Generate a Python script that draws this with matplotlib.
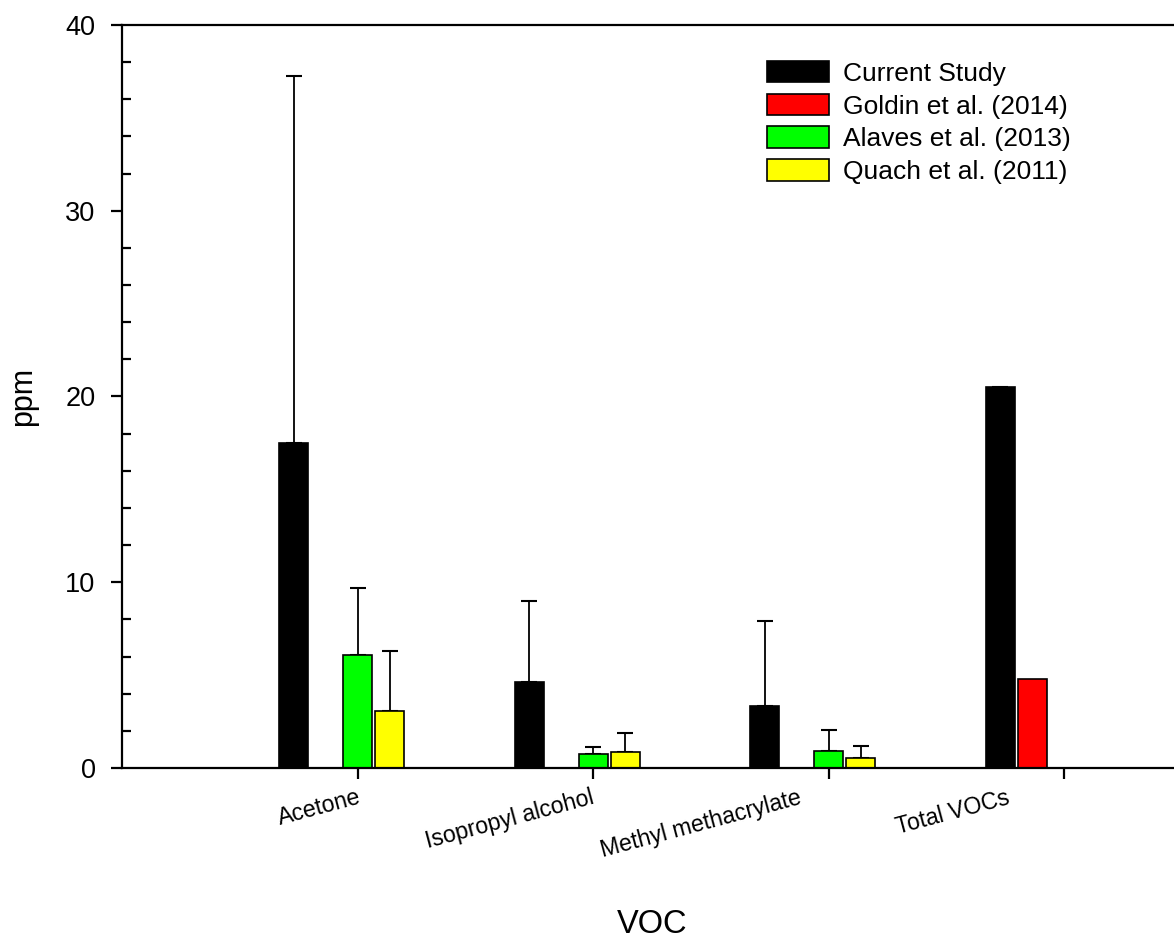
import numpy as np
import matplotlib
matplotlib.use('Agg')
import matplotlib.pyplot as plt
import matplotlib.transforms as mtransforms
from matplotlib.ticker import MultipleLocator

plt.rcParams['font.family'] = ['Liberation Sans', 'DejaVu Sans']

nan = np.nan
categories = ['Acetone', 'Isopropyl alcohol', 'Methyl methacrylate', 'Total VOCs']
series_names = ['Current Study', 'Goldin et al. (2014)', 'Alaves et al. (2013)', 'Quach et al. (2011)']
current = [17.5, 4.63, 3.36, 20.49]
current_err = [19.77, 4.36, 4.55, nan]
goldin = [nan, nan, nan, 4.77]
alaves = [6.08, 0.75, 0.90, nan]
alaves_err = [3.61, 0.40, 1.13, nan]
quach = [3.09, 0.84, 0.56, nan]
quach_err = [3.23, 1.03, 0.62, nan]

colors = ['black', '#ff0000', '#00ff00', '#ffff00']
values = [current, goldin, alaves, quach]
errors = [current_err, None, alaves_err, quach_err]

fig = plt.figure(figsize=(11.74, 9.39), dpi=100)
ax = fig.add_axes([122/1174, 171/939, 1052/1174, 743/939])

x = np.arange(len(categories))
step = 0.136
width = 0.123
offsets = [-2*step, -step, 0, step]

for vals, errs, col, name, off in zip(values, errors, colors, series_names, offsets):
    ax.bar(x + off, vals, width, color=col, edgecolor='black', linewidth=1.2,
           label=name, zorder=2)
    if errs is not None:
        lower = np.zeros(len(errs))
        ax.errorbar(x + off, vals, yerr=[lower, errs], fmt='none', ecolor='black',
                    elinewidth=1.3, capsize=5.5, capthick=1.5, zorder=1)

ax.set_xlim(-1.0, 3.465)
ax.set_ylim(0, 40)
ax.spines['right'].set_visible(False)
for s in ['left', 'bottom', 'top']:
    ax.spines[s].set_linewidth(1.6)

ax.yaxis.set_major_locator(MultipleLocator(10))
ax.yaxis.set_minor_locator(MultipleLocator(2))
ax.tick_params(axis='y', which='major', direction='out', length=8, width=1.6,
               labelsize=19.5, pad=11)
ax.tick_params(axis='y', which='minor', direction='in', length=6.5, width=1.6)
ax.tick_params(axis='x', which='major', direction='out', length=8, width=1.6,
               labelsize=16.7, pad=5)
ax.tick_params(top=False, right=False, which='both')

ax.set_xticks(x)
ax.set_xticklabels(categories, rotation=15, ha='right', rotation_mode='anchor')
shifts = [0, -3, -31, -58]
for lbl, dx in zip(ax.get_xticklabels(), shifts):
    lbl.set_transform(lbl.get_transform() +
                      mtransforms.ScaledTranslation(dx/100, 0, fig.dpi_scale_trans))

ax.set_xlabel('VOC', fontsize=23.5)
ax.xaxis.set_label_coords(0.504, -0.19)
ax.set_ylabel('ppm', fontsize=22)
ax.yaxis.set_label_coords(-0.08, 0.5)

ax.legend(loc='upper left', bbox_to_anchor=(645/1052, 1 - 36/743), frameon=False,
          fontsize=19, handlelength=2.35, handleheight=0.87, handletextpad=0.53,
          labelspacing=0.3, borderpad=0, borderaxespad=0)

fig.savefig('out.png', dpi=100)
